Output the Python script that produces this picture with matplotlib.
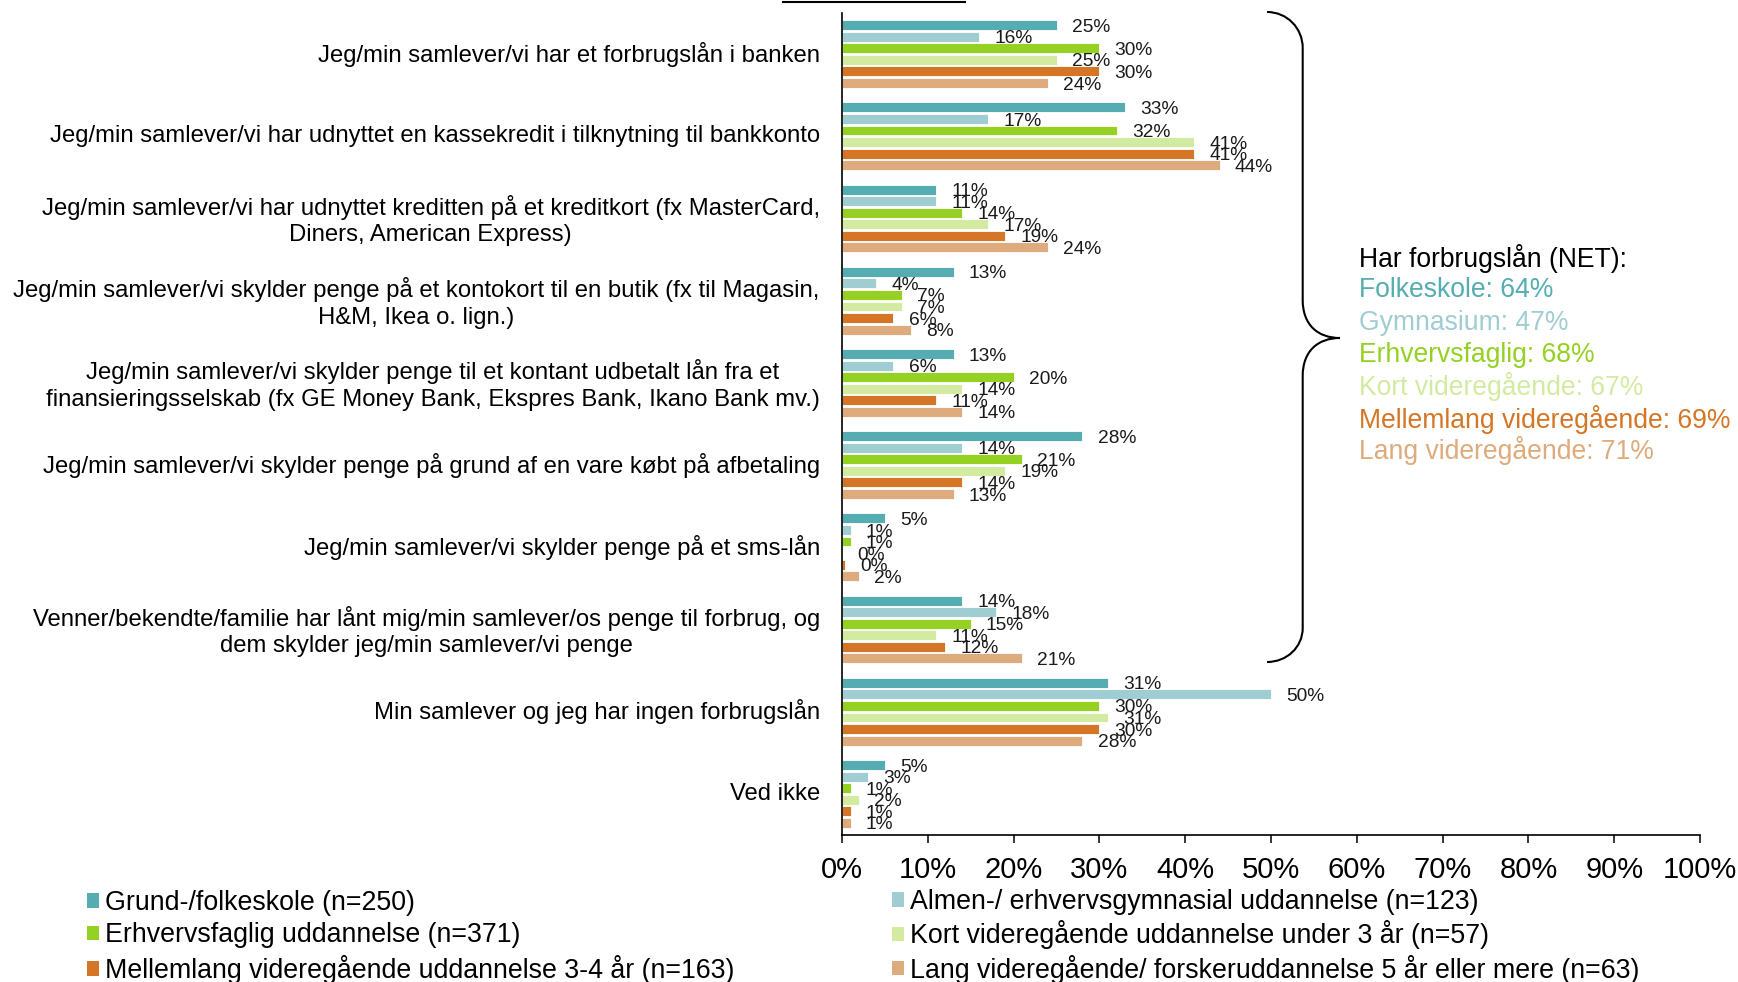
import matplotlib
matplotlib.use('Agg')
import matplotlib.pyplot as plt
import numpy as np
from matplotlib.patches import Patch, PathPatch
from matplotlib.path import Path
from matplotlib.lines import Line2D
from matplotlib.transforms import ScaledTranslation

plt.rcParams['font.family'] = ['Liberation Sans', 'DejaVu Sans']

# ---------------- data ----------------
categories = [
    "Jeg/min samlever/vi har et forbrugslån i banken",
    "Jeg/min samlever/vi har udnyttet en kassekredit i tilknytning til bankkonto",
    "Jeg/min samlever/vi har udnyttet kreditten på et kreditkort (fx MasterCard,\nDiners, American Express)",
    "Jeg/min samlever/vi skylder penge på et kontokort til en butik (fx til Magasin,\nH&M, Ikea o. lign.)",
    "Jeg/min samlever/vi skylder penge til et kontant udbetalt lån fra et\nfinansieringsselskab (fx GE Money Bank, Ekspres Bank, Ikano Bank mv.)",
    "Jeg/min samlever/vi skylder penge på grund af en vare købt på afbetaling",
    "Jeg/min samlever/vi skylder penge på et sms-lån",
    "Venner/bekendte/familie har lånt mig/min samlever/os penge til forbrug, og\ndem skylder jeg/min samlever/vi penge",
    "Min samlever og jeg har ingen forbrugslån",
    "Ved ikke",
]

series_names = [
    "Grund-/folkeskole (n=250)",
    "Almen-/ erhvervsgymnasial uddannelse (n=123)",
    "Erhvervsfaglig uddannelse (n=371)",
    "Kort videregående uddannelse under 3 år (n=57)",
    "Mellemlang videregående uddannelse 3-4 år (n=163)",
    "Lang videregående/ forskeruddannelse 5 år eller mere (n=63)",
]

grund = [25, 33, 11, 13, 13, 28, 5, 14, 31, 5]
almen = [16, 17, 11, 4, 6, 14, 1, 18, 50, 3]
erhverv = [30, 32, 14, 7, 20, 21, 1, 15, 30, 1]
kort = [25, 41, 17, 7, 14, 19, 0, 11, 31, 2]
mellem = [30, 41, 19, 6, 11, 14, 0.4, 12, 30, 1]
lang = [24, 44, 24, 8, 14, 13, 2, 21, 28, 1]
series_values = [grund, almen, erhverv, kort, mellem, lang]

colors = ["#55ADB1", "#A0CDD1", "#94D122", "#D3EBA1", "#D57626", "#DEAB7C"]

net_title = "Har forbrugslån (NET):"
net_names = ["Folkeskole", "Gymnasium", "Erhvervsfaglig", "Kort videregående",
             "Mellemlang videregående", "Lang videregående"]
net_values = [64, 47, 68, 67, 69, 71]

xticks = list(range(0, 101, 10))

# ---------------- figure ----------------
W, H = 1738, 982
fig = plt.figure(figsize=(W / 100, H / 100), dpi=100)


def fx(x):
    return x / W


def fy(y):
    return 1 - y / H


ax = fig.add_axes([fx(842), fy(835), fx(1700) - fx(842), fy(13) - fy(835)])

slot = 0.1408
bar_h = 0.121
y = np.arange(len(categories))
for i, (vals, col) in enumerate(zip(series_values, colors)):
    offs = (i - 2.5) * slot
    ax.barh(y + offs, vals, height=bar_h, color=col, edgecolor='white', linewidth=0.6)
    for yy, v in zip(y + offs, vals):
        ax.annotate(f"{round(v)}%", xy=(v, yy), xytext=(11, -1.5),
                    textcoords='offset points', ha='left', va='center',
                    fontsize=13.8, color='#1a1a1a')

ax.set_xlim(0, 100)
ax.set_ylim(9.5, -0.5)
ax.set_yticks(y)
ax.set_yticklabels(categories, fontsize=17.2, multialignment='center', linespacing=1.26)
ax.tick_params(axis='y', length=0, pad=16)
shift = ScaledTranslation(0, 1.8 / 72, fig.dpi_scale_trans)
for lab in ax.get_yticklabels():
    lab.set_transform(lab.get_transform() + shift)
ax.set_xticks(xticks)
ax.set_xticklabels([f"{t}%" for t in xticks], fontsize=21)
ax.tick_params(axis='x', direction='out', length=6, width=1.1, pad=9)
for s in ['top', 'right']:
    ax.spines[s].set_visible(False)
for s in ['left', 'bottom']:
    ax.spines[s].set_linewidth(1.2)
    ax.spines[s].set_color('black')

# ---------------- legend (two columns) ----------------
handles = [Patch(facecolor=c, edgecolor='none') for c in colors]
leg_kw = dict(frameon=False, fontsize=19.3, handlelength=0.45, handleheight=0.45,
              handletextpad=0.22, borderpad=0, borderaxespad=0, loc='upper left')
leg1 = fig.legend([handles[0], handles[2], handles[4]],
                  [series_names[0], series_names[2], series_names[4]],
                  bbox_to_anchor=(fx(87), fy(890)), labelspacing=0.24, **leg_kw)
leg2 = fig.legend([handles[1], handles[3], handles[5]],
                  [series_names[1], series_names[3], series_names[5]],
                  bbox_to_anchor=(fx(892), fy(889)), labelspacing=0.20, **leg_kw)

# ---------------- NET block ----------------
net_y = [258, 290, 322.5, 354.7, 386.8, 419, 450]
fig.text(fx(1359), fy(net_y[0]), net_title, fontsize=19.1, color='black', va='center')
for k, (nm, v) in enumerate(zip(net_names, net_values)):
    fig.text(fx(1359), fy(net_y[k + 1]), f"{nm}: {v}%", fontsize=19.1,
             color=colors[k], va='center')

# ---------------- brace ----------------
xv = 1302.7
pts = [
    (1267, 12), (1267 + 20, 12), (xv, 48 - 20), (xv, 48),
    (xv, 300),
    (xv, 325), (1318, 338), (1340, 338),
    (1318, 338), (xv, 351), (xv, 376),
    (xv, 628),
    (xv, 628 + 19), (1267 + 20, 662), (1267, 662),
]
codes = [Path.MOVETO, Path.CURVE4, Path.CURVE4, Path.CURVE4,
         Path.LINETO,
         Path.CURVE4, Path.CURVE4, Path.CURVE4,
         Path.CURVE4, Path.CURVE4, Path.CURVE4,
         Path.LINETO,
         Path.CURVE4, Path.CURVE4, Path.CURVE4]
brace = Path([(fx(a), fy(b)) for a, b in pts], codes)
fig.add_artist(PathPatch(brace, transform=fig.transFigure, fill=False,
                         edgecolor='black', linewidth=1.5))

# top line (cut-off title underline)
fig.add_artist(Line2D([fx(783), fx(965)], [fy(1.5), fy(1.5)], transform=fig.transFigure,
                      color='black', linewidth=1.5))

fig.savefig('out.png', dpi=100)
